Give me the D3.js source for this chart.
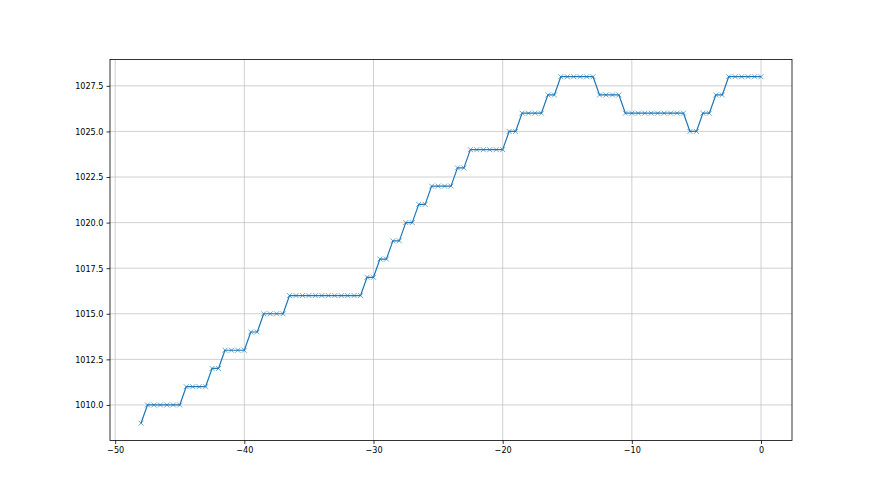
<!DOCTYPE html>
<html>
<head>
<meta charset="utf-8">
<script src="https://cdn.jsdelivr.net/npm/d3@7"></script>
<style>
  body { margin: 0; background: #fff; }
  text { font-family: "DejaVu Sans Condensed", "DejaVu Sans", sans-serif; font-stretch: condensed; fill: #000; }
</style>
</head>
<body>
<svg id="chart" width="880" height="495"></svg>
<script>
// hours before now (half-hour readings)
var hours = [-48, -47.5, -47, -46.5, -46, -45.5, -45, -44.5, -44, -43.5, -43,
             -42.5, -42, -41.5, -41, -40.5, -40, -39.5, -39, -38.5, -38, -37.5, -37,
             -36.5, -36, -35.5, -35, -34.5, -34, -33.5, -33, -32.5, -32, -31.5, -31,
             -30.5, -30, -29.5, -29, -28.5, -28, -27.5, -27, -26.5, -26,
             -25.5, -25, -24.5, -24, -23.5, -23, -22.5, -22, -21.5, -21, -20.5, -20,
             -19.5, -19, -18.5, -18, -17.5, -17, -16.5, -16,
             -15.5, -15, -14.5, -14, -13.5, -13, -12.5, -12, -11.5, -11,
             -10.5, -10, -9.5, -9, -8.5, -8, -7.5, -7, -6.5, -6,
             -5.5, -5, -4.5, -4, -3.5, -3, -2.5, -2, -1.5, -1, -0.5, 0];

// pressure readings (hPa)
var pressure = [1009, 1010, 1010, 1010, 1010, 1010, 1010, 1011, 1011, 1011, 1011,
                1012, 1012, 1013, 1013, 1013, 1013, 1014, 1014, 1015, 1015, 1015, 1015,
                1016, 1016, 1016, 1016, 1016, 1016, 1016, 1016, 1016, 1016, 1016, 1016,
                1017, 1017, 1018, 1018, 1019, 1019, 1020, 1020, 1021, 1021,
                1022, 1022, 1022, 1022, 1023, 1023, 1024, 1024, 1024, 1024, 1024, 1024,
                1025, 1025, 1026, 1026, 1026, 1026, 1027, 1027,
                1028, 1028, 1028, 1028, 1028, 1028, 1027, 1027, 1027, 1027,
                1026, 1026, 1026, 1026, 1026, 1026, 1026, 1026, 1026, 1026,
                1025, 1025, 1026, 1026, 1027, 1027, 1028, 1028, 1028, 1028, 1028, 1028];

var xTicks = [-50, -40, -30, -20, -10, 0];
var yTicks = [1010, 1012.5, 1015, 1017.5, 1020, 1022.5, 1025, 1027.5];

var data = hours.map(function(h, i){ return { h: h, p: pressure[i] }; });

var margin = { left:110, right:88, top:59.4, bottom:54.5 };
var width = 880 - margin.left - margin.right,
    height = 495 - margin.top - margin.bottom;

var svg = d3.select("#chart");
var g = svg.append("g")
    .attr("transform", "translate(" + margin.left + "," + margin.top + ")");

// matplotlib style 5% margins
var xPad = (d3.max(hours) - d3.min(hours)) * 0.05,
    yPad = (d3.max(pressure) - d3.min(pressure)) * 0.05;

var x = d3.scaleLinear()
    .domain([d3.min(hours) - xPad, d3.max(hours) + xPad])
    .range([0, width]);

var y = d3.scaleLinear()
    .domain([d3.min(pressure) - yPad, d3.max(pressure) + yPad])
    .range([height, 0]);

// Grid
g.append("g").selectAll("line")
    .data(xTicks)
    .enter().append("line")
        .attr("x1", function(d){ return x(d); })
        .attr("x2", function(d){ return x(d); })
        .attr("y1", 0).attr("y2", height)
        .attr("stroke", "#c4c4c4").attr("stroke-width", 0.8);

g.append("g").selectAll("line")
    .data(yTicks)
    .enter().append("line")
        .attr("y1", function(d){ return y(d); })
        .attr("y2", function(d){ return y(d); })
        .attr("x1", 0).attr("x2", width)
        .attr("stroke", "#c4c4c4").attr("stroke-width", 0.8);

// Line
var line = d3.line()
    .x(function(d){ return x(d.h); })
    .y(function(d){ return y(d.p); });

g.append("path")
    .datum(data)
    .attr("fill", "none")
    .attr("stroke", "#1f77b4")
    .attr("stroke-width", 1.2)
    .attr("stroke-linejoin", "round")
    .attr("d", line);

// x markers
var m = 2.5;
g.append("g").selectAll("path")
    .data(data)
    .enter().append("path")
        .attr("d", function(d){
            var cx = x(d.h), cy = y(d.p);
            return "M" + (cx - m) + "," + (cy - m) + "L" + (cx + m) + "," + (cy + m) +
                   "M" + (cx - m) + "," + (cy + m) + "L" + (cx + m) + "," + (cy - m);
        })
        .attr("stroke", "#1f77b4")
        .attr("stroke-opacity", 0.8)
        .attr("stroke-width", 0.8)
        .attr("fill", "none");

// Axes
var xAxisCall = d3.axisBottom(x)
    .tickValues(xTicks)
    .tickSize(3.5)
    .tickPadding(3)
    .tickFormat(function(d){ return d3.format("d")(d).replace("-", "\u2212"); });
var xAxis = g.append("g")
    .attr("transform", "translate(0," + height + ")")
    .call(xAxisCall);

var yAxisCall = d3.axisLeft(y)
    .tickValues(yTicks)
    .tickSize(3.5)
    .tickPadding(3)
    .tickFormat(d3.format(".1f"));
var yAxis = g.append("g").call(yAxisCall);

[xAxis, yAxis].forEach(function(a){
    a.select(".domain").remove();
    a.selectAll(".tick line").attr("stroke", "#000").attr("stroke-width", 0.8);
    a.selectAll(".tick text").attr("font-size", "9px").attr("font-family", null);
});

// Frame
g.append("rect")
    .attr("width", width)
    .attr("height", height)
    .attr("fill", "none")
    .attr("stroke", "#000")
    .attr("stroke-width", 0.8);
</script>
</body>
</html>
